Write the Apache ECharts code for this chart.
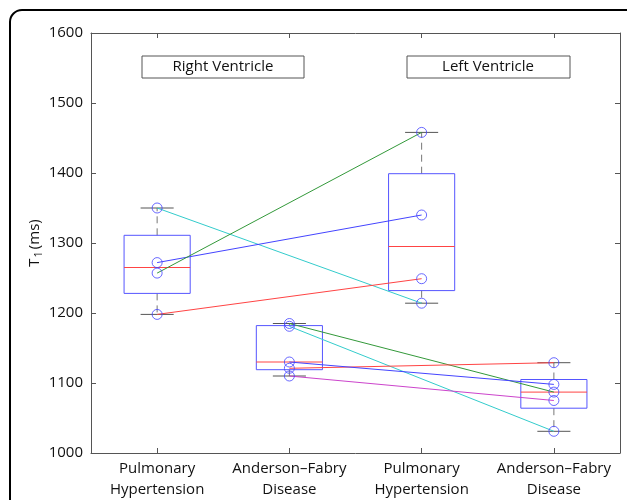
<!DOCTYPE html>
<html><head><meta charset="utf-8">
<script src="https://cdn.jsdelivr.net/npm/echarts@6/dist/echarts.min.js"></script>
<style>html,body{margin:0;padding:0;background:#fff}#c{width:627px;height:500px}</style>
</head><body><div id="c"></div>
<script>
var FONT = "'Open Sans', sans-serif";
var categories = ['Pulmonary\nHypertension', 'Anderson\u2013Fabry\nDisease', 'Pulmonary\nHypertension', 'Anderson\u2013Fabry\nDisease'];
var yTicks = {min: 1000, max: 1600, interval: 100};
// Box statistics: [min, q1, median, q3, max]
var boxRvPH  = [1198, 1228, 1265, 1311, 1350];
var boxRvAFD = [1110, 1119, 1130, 1182, 1185];
var boxLvPH  = [1214, 1232, 1295, 1399, 1458];
var boxLvAFD = [1031, 1064, 1087, 1105, 1129];
// Individual patients (same order = same patient, same colour)
var phColors = ['#33cccc', '#4444ff', '#33993a', '#ff4444'];
var rvPH = [1350, 1272, 1257, 1198];
var lvPH = [1214, 1340, 1458, 1249];
var afdColors = ['#33993a', '#33cccc', '#ff4444', '#4444ff', '#cc44cc'];
var rvAFD = [1185, 1181, 1121, 1130, 1110];
var lvAFD = [1087, 1031, 1129, 1098, 1075];

var boxes = [boxRvPH, boxRvAFD, boxLvPH, boxLvAFD];
var chart = echarts.init(document.getElementById('c'), null, {renderer: 'canvas'});

function renderBox(params, api) {
  var i = api.value(0);
  var vmin = api.value(1), q1 = api.value(2), med = api.value(3), q3 = api.value(4), vmax = api.value(5);
  var band = api.size([1, 0])[0];
  var bw = band * 0.5, cw = band * 0.25;
  var pMin = api.coord([i, vmin]), pQ1 = api.coord([i, q1]), pMed = api.coord([i, med]), pQ3 = api.coord([i, q3]), pMax = api.coord([i, vmax]);
  var cx = pMed[0];
  var dash = {stroke: '#777', lineWidth: 1, lineDash: [7, 5]};
  var solid = {stroke: '#555', lineWidth: 1};
  return {type: 'group', children: [
    {type: 'line', shape: {x1: cx, y1: pQ3[1], x2: cx, y2: pMax[1]}, style: dash},
    {type: 'line', shape: {x1: cx, y1: pQ1[1], x2: cx, y2: pMin[1]}, style: dash},
    {type: 'line', shape: {x1: cx - cw / 2, y1: pMax[1], x2: cx + cw / 2, y2: pMax[1]}, style: solid},
    {type: 'line', shape: {x1: cx - cw / 2, y1: pMin[1], x2: cx + cw / 2, y2: pMin[1]}, style: solid},
    {type: 'rect', shape: {x: cx - bw / 2, y: pQ3[1], width: bw, height: pQ1[1] - pQ3[1]}, style: {fill: 'none', stroke: '#5555ff', lineWidth: 1}},
    {type: 'line', shape: {x1: cx - bw / 2, y1: pMed[1], x2: cx + bw / 2, y2: pMed[1]}, style: {stroke: '#ff4444', lineWidth: 1}}
  ]};
}

var series = [];
series.push({
  type: 'custom', renderItem: renderBox, z: 2, silent: true,
  data: boxes.map(function (b, i) { return [i].concat(b); }),
  encode: {x: 0, y: [1, 2, 3, 4, 5]}
});
rvPH.forEach(function (v, k) {
  series.push({type: 'line', z: 3, symbol: 'none', silent: true, lineStyle: {color: phColors[k], width: 1},
    data: [[0, v], [2, lvPH[k]]]});
});
rvAFD.forEach(function (v, k) {
  series.push({type: 'line', z: 3, symbol: 'none', silent: true, lineStyle: {color: afdColors[k], width: 1},
    data: [[1, v], [3, lvAFD[k]]]});
});
var pts = [];
rvPH.forEach(function (v) { pts.push([0, v]); });
rvAFD.forEach(function (v) { pts.push([1, v]); });
lvPH.forEach(function (v) { pts.push([2, v]); });
lvAFD.forEach(function (v) { pts.push([3, v]); });
series.push({type: 'scatter', z: 4, silent: true, symbol: 'circle', symbolSize: 10,
  itemStyle: {color: 'rgba(0,0,0,0)', borderColor: '#4444ff', borderWidth: 1}, data: pts});

var axisLine = {show: true, lineStyle: {color: '#555', width: 1}};
var tick = {show: true, inside: true, length: 5, lineStyle: {color: '#555'}};
chart.setOption({
  animation: false,
  backgroundColor: '#fff',
  grid: {left: 91, right: 7, top: 33, bottom: 42},
  xAxis: [
    {type: 'category', data: categories, position: 'bottom', axisLine: axisLine,
     axisTick: Object.assign({alignWithLabel: true}, tick),
     axisLabel: {interval: 0, color: '#111', fontSize: 15, lineHeight: 21, margin: 5, fontFamily: FONT}},
    {type: 'category', data: categories, position: 'top', axisLine: axisLine,
     axisTick: Object.assign({alignWithLabel: true}, tick), axisLabel: {show: false}}
  ],
  yAxis: [
    {type: 'value', min: yTicks.min, max: yTicks.max, interval: yTicks.interval, position: 'left',
     axisLine: axisLine, axisTick: tick, splitLine: {show: false},
     axisLabel: {color: '#111', fontSize: 15, margin: 8, fontFamily: FONT, formatter: function (v) { return String(v); }},
     name: '{t|T}{s|1}{t|(ms)}', nameLocation: 'middle', nameGap: 47, nameMoveOverlap: false,
     nameTextStyle: {color: '#111', fontFamily: FONT, rich: {
       t: {fontSize: 15, fontFamily: FONT, color: '#111'},
       s: {fontSize: 11, fontFamily: FONT, color: '#111', padding: [8, 2, 0, 1]}
     }}},
    {type: 'value', min: yTicks.min, max: yTicks.max, interval: yTicks.interval, position: 'right',
     axisLine: axisLine, axisTick: tick, splitLine: {show: false}, axisLabel: {show: false}}
  ],
  graphic: [
    {type: 'rect', shape: {x: 10, y: 10, width: 628, height: 540, r: 12}, style: {fill: 'none', stroke: '#000', lineWidth: 2}, z: 100},
    {type: 'rect', shape: {x: 142, y: 56, width: 162, height: 22}, style: {fill: '#fff', stroke: '#555', lineWidth: 1}, z: 10},
    {type: 'text', x: 223, y: 67, style: {text: 'Right Ventricle', fontSize: 15, fontFamily: FONT, fill: '#111', align: 'center', verticalAlign: 'middle'}, z: 11},
    {type: 'rect', shape: {x: 407, y: 56, width: 163, height: 22}, style: {fill: '#fff', stroke: '#555', lineWidth: 1}, z: 10},
    {type: 'text', x: 488, y: 67, style: {text: 'Left Ventricle', fontSize: 15, fontFamily: FONT, fill: '#111', align: 'center', verticalAlign: 'middle'}, z: 11}
  ],
  series: series
});
</script></body></html>
